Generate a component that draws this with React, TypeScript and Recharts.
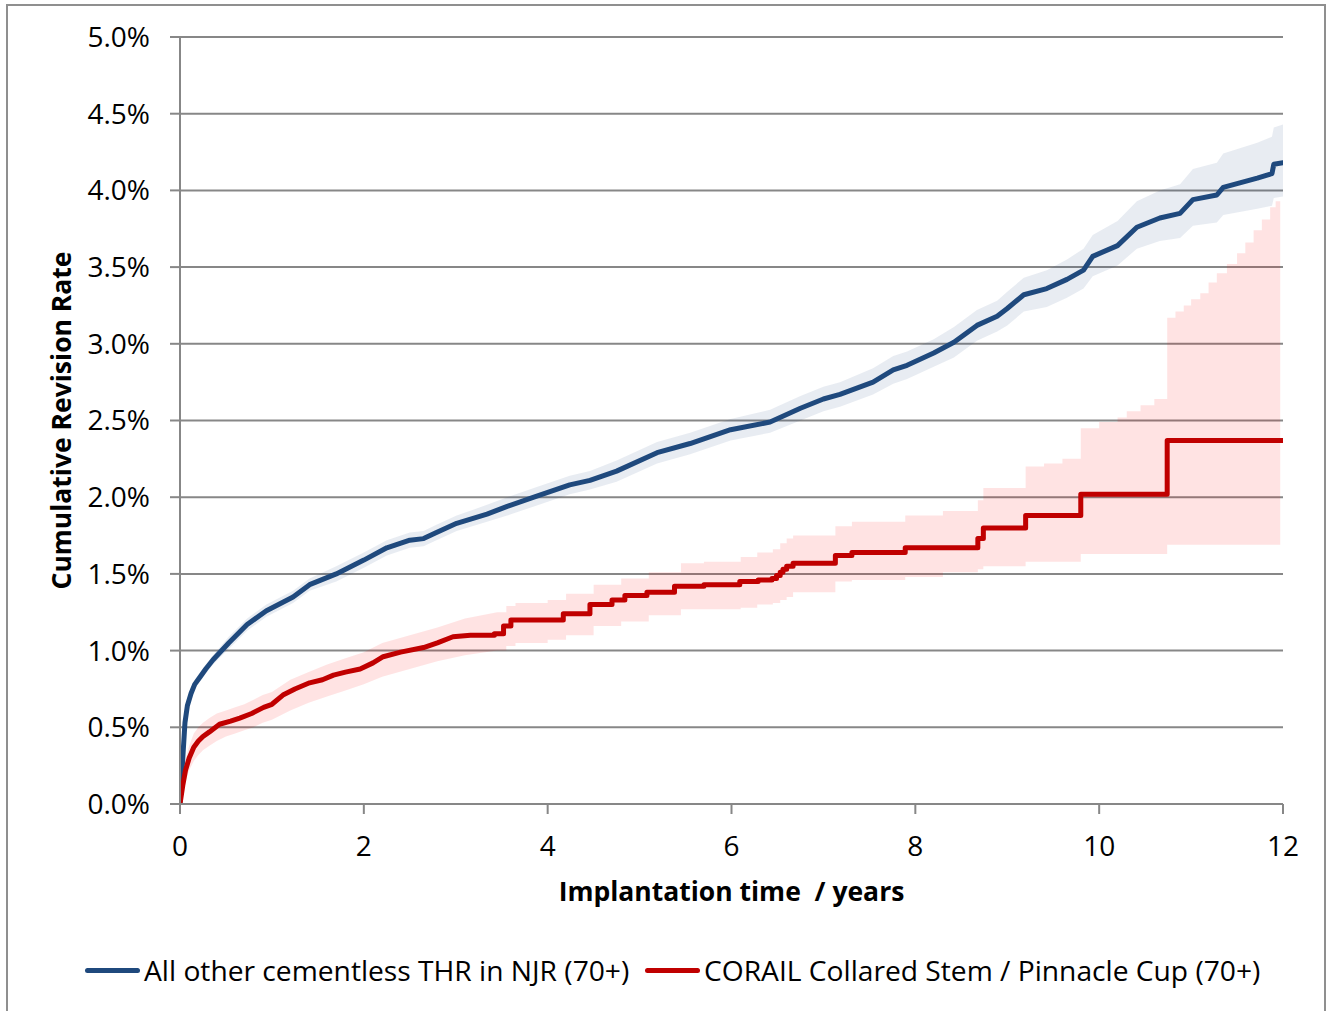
import React from 'react';
import { ComposedChart, Line, Area, XAxis, YAxis, CartesianGrid } from 'recharts';

// Blue: All other cementless THR in NJR (70+)
const blueT = [0, 0.02, 0.054, 0.08, 0.12, 0.16, 0.22, 0.28, 0.36, 0.53, 0.73, 0.94, 1.23, 1.41, 1.7, 2.0, 2.25, 2.5, 2.65, 2.79, 3.01, 3.34, 3.56, 3.85, 4.24, 4.46, 4.75, 5.19, 5.55, 5.99, 6.42, 6.75, 7.0, 7.18, 7.54, 7.76, 7.91, 8.2, 8.42, 8.67, 8.89, 9.0, 9.18, 9.43, 9.65, 9.83, 9.93, 10.2, 10.41, 10.66, 10.88, 11.02, 11.28, 11.35, 11.72, 11.88, 11.9, 12.0];
const blueV = [0, 0.2, 0.53, 0.64, 0.72, 0.78, 0.83, 0.88, 0.94, 1.05, 1.17, 1.26, 1.35, 1.43, 1.5, 1.59, 1.67, 1.72, 1.73, 1.77, 1.83, 1.89, 1.94, 2.0, 2.08, 2.11, 2.17, 2.29, 2.35, 2.44, 2.49, 2.58, 2.64, 2.67, 2.75, 2.83, 2.86, 2.94, 3.01, 3.12, 3.18, 3.23, 3.32, 3.36, 3.42, 3.48, 3.57, 3.64, 3.76, 3.82, 3.85, 3.94, 3.97, 4.02, 4.08, 4.11, 4.17, 4.18];
const blueLo = [0, 0.18, 0.5, 0.61, 0.69, 0.75, 0.8, 0.85, 0.91, 1.01, 1.13, 1.22, 1.31, 1.39, 1.45, 1.54, 1.62, 1.67, 1.68, 1.72, 1.78, 1.84, 1.88, 1.94, 2.02, 2.05, 2.1, 2.22, 2.28, 2.37, 2.42, 2.5, 2.56, 2.59, 2.67, 2.74, 2.77, 2.85, 2.91, 3.02, 3.08, 3.12, 3.21, 3.24, 3.3, 3.36, 3.44, 3.51, 3.62, 3.67, 3.69, 3.77, 3.79, 3.84, 3.88, 3.9, 3.95, 3.96];
const blueHi = [0, 0.22, 0.56, 0.67, 0.75, 0.81, 0.86, 0.91, 0.97, 1.09, 1.21, 1.3, 1.39, 1.47, 1.55, 1.64, 1.72, 1.77, 1.78, 1.82, 1.88, 1.95, 2.0, 2.06, 2.14, 2.17, 2.24, 2.36, 2.42, 2.51, 2.57, 2.66, 2.72, 2.75, 2.84, 2.92, 2.95, 3.03, 3.11, 3.22, 3.28, 3.34, 3.43, 3.48, 3.55, 3.62, 3.71, 3.8, 3.93, 4.0, 4.04, 4.14, 4.18, 4.24, 4.31, 4.35, 4.41, 4.43];

// Red: CORAIL Collared Stem / Pinnacle Cup (70+) — early part (fine steps, drawn smooth)
const redEarlyT = [0, 0.03, 0.06, 0.1, 0.15, 0.2, 0.25, 0.32, 0.43, 0.55, 0.65, 0.78, 0.91, 1.0, 1.12, 1.25, 1.41, 1.55, 1.67, 1.8, 1.96, 2.1, 2.21, 2.4, 2.65, 2.8, 2.97, 3.16, 3.42];
const redEarlyV = [0, 0.12, 0.22, 0.3, 0.37, 0.41, 0.44, 0.47, 0.52, 0.54, 0.56, 0.59, 0.63, 0.65, 0.71, 0.75, 0.79, 0.81, 0.84, 0.86, 0.88, 0.92, 0.96, 0.99, 1.02, 1.05, 1.09, 1.1, 1.1];
// later part (discrete steps)
const redLateT = [3.42, 3.52, 3.6, 4.17, 4.46, 4.7, 4.84, 5.08, 5.38, 5.7, 6.09, 6.29, 6.44, 6.49, 6.53, 6.56, 6.6, 6.67, 7.13, 7.31, 7.89, 8.68, 8.74, 9.2, 9.8, 10.74, 12];
const redLateV = [1.11, 1.16, 1.2, 1.24, 1.3, 1.33, 1.36, 1.38, 1.42, 1.43, 1.45, 1.46, 1.47, 1.49, 1.51, 1.53, 1.55, 1.57, 1.62, 1.64, 1.67, 1.73, 1.8, 1.88, 2.02, 2.37, 2.37];

const redBandEarlyT = [0, 0.03, 0.06, 0.1, 0.15, 0.2, 0.25, 0.32, 0.4, 0.5, 0.6, 0.7, 0.8, 0.9, 1.0, 1.2, 1.4, 1.6, 1.8, 2.0, 2.2, 2.5, 2.8, 3.1, 3.45];
const redBandEarlyLo = [0, 0.07, 0.15, 0.22, 0.28, 0.32, 0.35, 0.38, 0.41, 0.44, 0.46, 0.48, 0.5, 0.53, 0.55, 0.61, 0.66, 0.7, 0.74, 0.78, 0.83, 0.88, 0.93, 0.97, 1.0];
const redBandEarlyHi = [0, 0.17, 0.29, 0.38, 0.46, 0.5, 0.53, 0.56, 0.59, 0.61, 0.63, 0.65, 0.68, 0.71, 0.73, 0.81, 0.86, 0.91, 0.95, 0.99, 1.05, 1.1, 1.15, 1.21, 1.25];
const redBandLateT = [3.45, 3.55, 3.65, 4.0, 4.2, 4.5, 4.8, 5.1, 5.45, 5.7, 6.1, 6.28, 6.45, 6.53, 6.6, 6.67, 7.13, 7.31, 7.89, 8.3, 8.68, 8.74, 9.2, 9.4, 9.6, 9.8, 10.0, 10.2, 10.3, 10.45, 10.6, 10.74, 10.83, 10.92, 11.0, 11.1, 11.19, 11.28, 11.39, 11.5, 11.59, 11.68, 11.77, 11.86, 11.92, 11.97];
const redBandLateLo = [1.0, 1.03, 1.05, 1.07, 1.1, 1.16, 1.19, 1.23, 1.27, 1.27, 1.28, 1.3, 1.31, 1.33, 1.35, 1.38, 1.45, 1.46, 1.48, 1.51, 1.53, 1.55, 1.58, 1.58, 1.58, 1.63, 1.63, 1.63, 1.63, 1.63, 1.63, 1.69, 1.69, 1.69, 1.69, 1.69, 1.69, 1.69, 1.69, 1.69, 1.69, 1.69, 1.69, 1.69, 1.69, 1.69];
const redBandLateHi = [1.25, 1.29, 1.31, 1.33, 1.37, 1.43, 1.47, 1.51, 1.57, 1.58, 1.61, 1.64, 1.66, 1.7, 1.73, 1.75, 1.81, 1.84, 1.88, 1.91, 1.98, 2.06, 2.2, 2.22, 2.25, 2.45, 2.49, 2.52, 2.56, 2.6, 2.64, 3.17, 3.21, 3.25, 3.29, 3.33, 3.4, 3.46, 3.52, 3.59, 3.66, 3.74, 3.81, 3.89, 3.93, 3.96];

const xTicks = [0, 2, 4, 6, 8, 10, 12];
const yTicks = [0, 0.5, 1, 1.5, 2, 2.5, 3, 3.5, 4, 4.5, 5];
const seriesNames = ['All other cementless THR in NJR (70+)', 'CORAIL Collared Stem / Pinnacle Cup (70+)'];

const BLUE = '#1F497D';
const RED = '#C00000';
const GRID = '#878787';
const FONT = '"Open Sans", sans-serif';

const blueLine = blueT.map((t, i) => ({ t, v: blueV[i] }));
const blueBand = blueT.map((t, i) => ({ t, range: [blueLo[i], blueHi[i]] }));
const redLineEarly = redEarlyT.map((t, i) => ({ t, v: redEarlyV[i] }));
const redLineLate = redLateT.map((t, i) => ({ t, v: redLateV[i] }));
const redBandEarly = redBandEarlyT.map((t, i) => ({ t, range: [redBandEarlyLo[i], redBandEarlyHi[i]] }));
const redBandLate = redBandLateT.map((t, i) => ({ t, range: [redBandLateLo[i], redBandLateHi[i]] }));

function LegendItem({ left, color, text }: { left: number; color: string; text: string }) {
  return (
    <div style={{ position: 'absolute', left, top: 950, height: 40, display: 'flex', alignItems: 'center' }}>
      <div style={{ width: 55, height: 5, borderRadius: 3, background: color, marginRight: 4 }} />
      <span style={{ fontFamily: FONT, fontSize: 28.2, color: '#000', whiteSpace: 'nowrap', lineHeight: '40px' }}>{text}</span>
    </div>
  );
}

export default function App() {
  return (
    <div style={{ position: 'absolute', left: 0, top: 0, width: 1333, height: 1011, background: '#fff', overflow: 'hidden' }}>
      <div style={{ position: 'absolute', left: 6, top: 4, width: 1320, height: 1030, border: '2px solid #8f8f8f', boxSizing: 'border-box' }} />
      <ComposedChart width={1333} height={1011} margin={{ top: 37, right: 50, bottom: 97, left: 8 }}>
        <CartesianGrid horizontal vertical={false} stroke={GRID} strokeWidth={2} strokeOpacity={1} />
        <XAxis
          type="number"
          dataKey="t"
          domain={[0, 12]}
          ticks={xTicks}
          interval={0}
          allowDataOverflow
          height={110}
          tickSize={10}
          tickMargin={22}
          axisLine={{ stroke: GRID, strokeWidth: 2 }}
          tickLine={{ stroke: GRID, strokeWidth: 2 }}
          tick={{ fontSize: 28, fill: '#000', fontFamily: FONT }}
          label={{ value: 'Implantation time\u00A0 / years', position: 'insideBottom', offset: 13, style: { fontWeight: 'bold', fontSize: 26.5, fill: '#000', fontFamily: FONT } }}
        />
        <YAxis
          type="number"
          domain={[0, 5]}
          ticks={yTicks}
          interval={0}
          allowDataOverflow
          width={172}
          tickSize={10}
          tickMargin={20}
          tickFormatter={(v: number) => v.toFixed(1) + '%'}
          axisLine={{ stroke: GRID, strokeWidth: 2 }}
          tickLine={{ stroke: GRID, strokeWidth: 2 }}
          tick={{ fontSize: 28, fill: '#000', fontFamily: FONT }}
          label={{ value: 'Cumulative Revision Rate', angle: -90, position: 'insideLeft', offset: 54, style: { textAnchor: 'middle', fontWeight: 'bold', fontSize: 26.5, fill: '#000', fontFamily: FONT } }}
        />
        <Area data={blueBand} dataKey="range" type="linear" stroke="none" fill={BLUE} fillOpacity={0.1} isAnimationActive={false} />
        <Area data={redBandEarly} dataKey="range" type="linear" stroke="none" fill="#FF0000" fillOpacity={0.11} isAnimationActive={false} />
        <Area data={redBandLate} dataKey="range" type="stepAfter" stroke="none" fill="#FF0000" fillOpacity={0.11} isAnimationActive={false} />
        <Line data={blueLine} dataKey="v" type="linear" stroke={BLUE} strokeWidth={5} dot={false} strokeLinejoin="round" strokeLinecap="round" isAnimationActive={false} />
        <Line data={redLineEarly} dataKey="v" type="linear" stroke={RED} strokeWidth={5} dot={false} strokeLinejoin="round" strokeLinecap="round" isAnimationActive={false} />
        <Line data={redLineLate} dataKey="v" type="stepAfter" stroke={RED} strokeWidth={5} dot={false} strokeLinejoin="round" strokeLinecap="round" isAnimationActive={false} />
      </ComposedChart>
      <LegendItem left={85} color={BLUE} text={seriesNames[0]} />
      <LegendItem left={645} color={RED} text={seriesNames[1]} />
    </div>
  );
}
